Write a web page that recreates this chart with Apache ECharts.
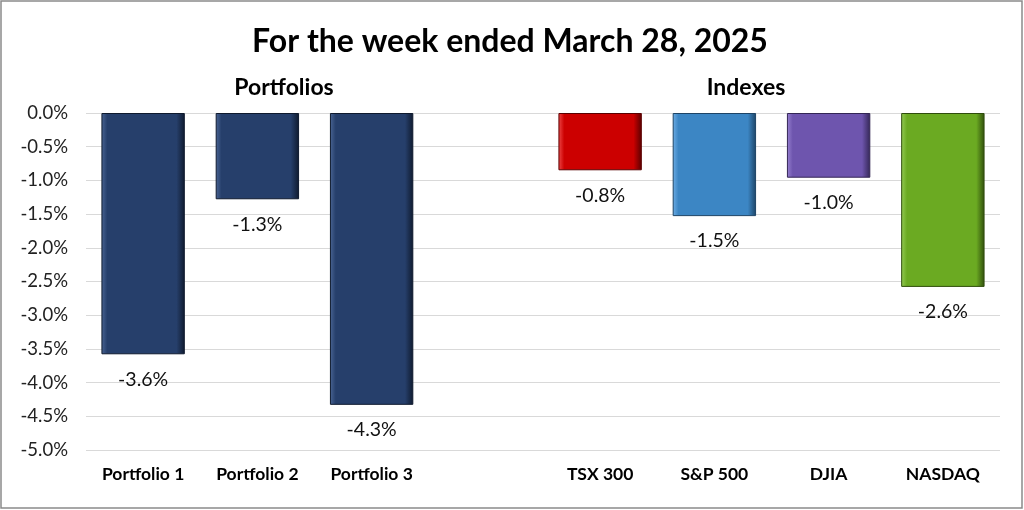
<!DOCTYPE html>
<html>
<head>
<meta charset="utf-8">
<style>html,body{margin:0;padding:0;background:#fff}#c{width:1024px;height:510px}</style>
<script src="https://cdn.jsdelivr.net/npm/echarts@6/dist/echarts.min.js"></script>
</head>
<body>
<div id="c"></div>
<script>
var categories = ['Portfolio 1', 'Portfolio 2', 'Portfolio 3', '', 'TSX 300', 'S&P 500', 'DJIA', 'NASDAQ'];
var values = [-3.58, -1.28, -4.33, null, -0.85, -1.53, -0.96, -2.58];
var barColors = ['#263F6B', '#263F6B', '#263F6B', '#263F6B', '#CC0000', '#3C86C4', '#6E55AE', '#6BAA22'];
var edgeColors = ['#0f1a2e', '#0f1a2e', '#0f1a2e', '#0f1a2e', '#5a0000', '#1d4466', '#332655', '#2f4d0c'];
var lightColors = ['#4a6594', '#4a6594', '#4a6594', '#4a6594', '#f04a4a', '#6eaee6', '#9680d0', '#95cc55'];
var yTicks = { min: -5, max: 0, step: 0.5 };
var titleText = 'For the week ended March 28, 2025';
var groupTitles = ['Portfolios', 'Indexes'];

var FONT = 'Lato, sans-serif';
var chart = echarts.init(document.getElementById('c'));
var data = values.map(function (v, i) {
  return {
    value: v,
    itemStyle: {
      color: new echarts.graphic.LinearGradient(0, 0, 1, 0, [
        { offset: 0, color: lightColors[i] },
        { offset: 0.07, color: barColors[i] },
        { offset: 0.9, color: barColors[i] },
        { offset: 1, color: edgeColors[i] }
      ]),
      borderColor: edgeColors[i],
      borderWidth: 1
    }
  };
});
chart.setOption({
  animation: false,
  backgroundColor: '#fff',
  title: [
    { text: titleText, left: 505, top: 21, textAlign: 'center',
      textStyle: { fontFamily: FONT, fontWeight: 'bold', fontSize: 32, color: '#000' } },
    { text: groupTitles[0], left: 279, top: 71, textAlign: 'center',
      textStyle: { fontFamily: FONT, fontWeight: 'bold', fontSize: 23, color: '#000' } },
    { text: groupTitles[1], left: 741, top: 71, textAlign: 'center',
      textStyle: { fontFamily: FONT, fontWeight: 'bold', fontSize: 23, color: '#000' } }
  ],
  graphic: [{
    type: 'rect', shape: { x: 1, y: 1, width: 1021, height: 507 },
    style: { fill: 'none', stroke: '#8a8a8a', lineWidth: 1.5 }, silent: true
  }],
  grid: { left: 86, right: 24, top: 113, bottom: 60, containLabel: false },
  xAxis: {
    type: 'category', data: categories,
    axisLine: { show: false }, axisTick: { show: false },
    axisLabel: { margin: 15, fontFamily: FONT, fontWeight: 'bold', fontSize: 17.5, color: '#000' }
  },
  yAxis: {
    type: 'value', min: yTicks.min, max: yTicks.max, interval: yTicks.step,
    axisLine: { show: false }, axisTick: { show: false },
    splitLine: { lineStyle: { color: '#d9d9d9', width: 1 } },
    axisLabel: { margin: 18, fontFamily: FONT, fontSize: 18.5, color: '#222',
      formatter: function (v) { return v.toFixed(1) + '%'; } }
  },
  series: [{
    type: 'bar', data: data, barWidth: '73%',
    label: { show: true, position: 'bottom', distance: 15, fontFamily: FONT, fontSize: 19.5, color: '#111',
      formatter: function (p) { return p.value.toFixed(1) + '%'; } }
  }]
});
</script>
</body>
</html>
